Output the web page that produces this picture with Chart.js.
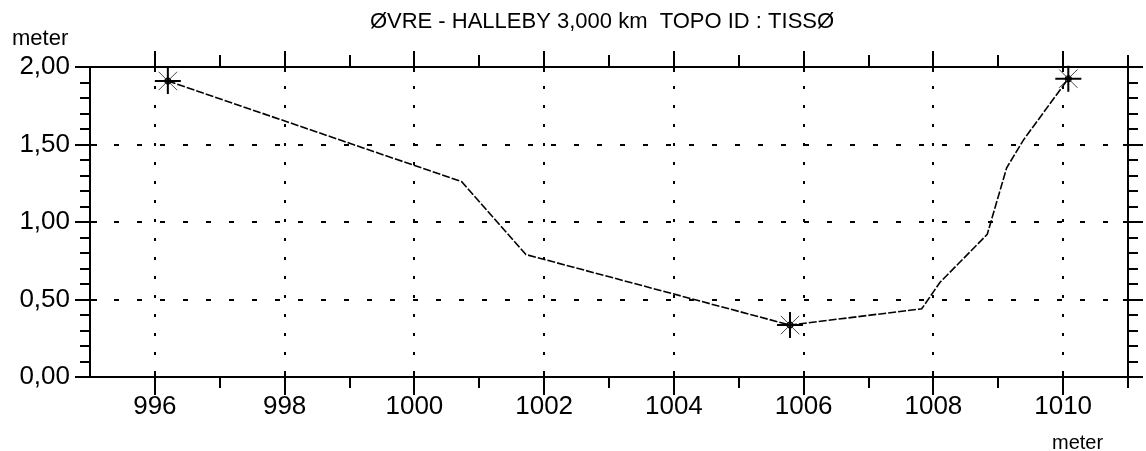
<!DOCTYPE html>
<html lang="no">
<head>
  <meta charset="UTF-8">
  <title>ØVRE - HALLEBY 3,000 km  TOPO ID : TISSØ</title>
  <script src="https://cdn.jsdelivr.net/npm/chart.js"></script>
  <style>
    body {
      margin: 0;
      background: #fff;
    }
    #wrap {
      width: 1146px;
      height: 451px;
    }
  </style>
</head>
<body>

  <div id="wrap"><canvas id="profil" width="1146" height="451"></canvas></div>

  <script>
    // tverrprofil: avstand langs profilet (meter) og høyde (meter)
    const avstand = [996.2, 1000.73, 1001.72, 1005.79, 1007.82, 1008.1, 1008.83, 1009.13, 1009.39, 1010.08];
    const hoyde   = [1.91,  1.26,    0.79,    0.335,   0.44,    0.61,   0.92,    1.35,    1.53,    1.925];

    // indekser for innmålte punkter (tegnes som stjerner)
    const maaltePunkt = [0, 3, 9];

    // akseverdier med tekst og rutenett
    const xTickVerdier = [996, 998, 1000, 1002, 1004, 1006, 1008, 1010];
    const yTickVerdier = [0, 0.5, 1, 1.5, 2];

    const tittel = 'ØVRE - HALLEBY 3,000 km  TOPO ID : TISSØ';
    const enhet = 'meter';

    const skrift = 'Liberation Sans';

    function erMerket(liste, v) {
      return liste.some(t => Math.abs(t - v) < 1e-6);
    }

    const profilData = avstand.map((x, i) => ({ x: x, y: hoyde[i] }));
    const stjerneData = maaltePunkt.map(i => ({ x: avstand[i], y: hoyde[i] }));

    // små streker på alle fire sider av rammen
    const rammeStreker = {
      id: 'rammeStreker',
      afterDraw(chart) {
        const { ctx, chartArea: a, scales: { x, y } } = chart;
        ctx.save();
        ctx.strokeStyle = '#000';
        ctx.lineWidth = 2;
        ctx.beginPath();

        x.ticks.forEach(t => {
          if (Math.abs(t.value - x.min) < 1e-6) return;
          const px = Math.round(x.getPixelForValue(t.value));
          const stor = erMerket(xTickVerdier, t.value);
          // nede
          ctx.moveTo(px, a.bottom + (stor ? 18 : 11));
          ctx.lineTo(px, a.bottom - (stor ? 4 : 0));
          // oppe
          ctx.moveTo(px, a.top - (stor ? 16 : 12));
          ctx.lineTo(px, a.top + (stor ? 5 : 0));
        });

        y.ticks.forEach(t => {
          const py = Math.round(y.getPixelForValue(t.value));
          const stor = erMerket(yTickVerdier, t.value);
          // venstre
          ctx.moveTo(a.left - (stor ? 15 : 10), py);
          ctx.lineTo(a.left + (stor ? 7 : 0), py);
          // høyre
          ctx.moveTo(a.right - (stor ? 5 : 0), py);
          ctx.lineTo(a.right + (stor ? 15 : 10), py);
        });

        ctx.stroke();
        ctx.restore();
      }
    };

    // tittel og enheter
    const tekster = {
      id: 'tekster',
      afterDraw(chart) {
        const ctx = chart.ctx;
        ctx.save();
        ctx.fillStyle = '#000';
        ctx.textBaseline = 'alphabetic';

        ctx.font = '22px "' + skrift + '"';
        ctx.textAlign = 'center';
        ctx.fillText(tittel, 602, 28);

        ctx.textAlign = 'left';
        ctx.fillText(enhet, 12, 45);

        ctx.font = '20px "' + skrift + '"';
        ctx.fillText(enhet, 1052, 449);
        ctx.restore();
      }
    };

    new Chart(document.getElementById('profil'), {
      type: 'line',
      data: {
        datasets: [
          {
            data: profilData,
            borderColor: '#000',
            borderWidth: 1.6,
            borderDash: [8, 2],
            pointRadius: 0,
            tension: 0
          },
          {
            data: stjerneData,
            showLine: false,
            pointStyle: 'cross',
            pointRadius: 13,
            pointBorderWidth: 2,
            pointBorderColor: '#000',
            clip: false
          },
          {
            data: stjerneData,
            showLine: false,
            pointStyle: 'crossRot',
            pointRadius: 13,
            pointBorderWidth: 1,
            pointBorderColor: '#444',
            clip: false
          },
          {
            data: stjerneData,
            showLine: false,
            pointStyle: 'circle',
            pointRadius: 3.5,
            pointBorderWidth: 0,
            pointBackgroundColor: '#000',
            clip: false
          }
        ]
      },
      options: {
        responsive: false,
        animation: false,
        devicePixelRatio: 1,
        layout: { padding: 0 },
        plugins: {
          legend: { display: false },
          tooltip: { enabled: false }
        },
        scales: {
          x: {
            type: 'linear',
            position: 'bottom',
            min: 995,
            max: 1011,
            afterFit: s => { s.height = 74; },
            ticks: {
              stepSize: 1,
              autoSkip: false,
              maxRotation: 0,
              padding: 14,
              color: '#000',
              font: { family: skrift, size: 26 },
              callback: v => erMerket(xTickVerdier, v) ? String(v) : ''
            },
            grid: {
              drawTicks: false,
              lineWidth: 2,
              color: c => (c.tick && erMerket(xTickVerdier, c.tick.value)) ? '#000' : 'rgba(0,0,0,0)'
            },
            border: { color: '#000', width: 2, dash: [3, 16] }
          },
          x2: {
            type: 'linear',
            position: 'top',
            min: 995,
            max: 1011,
            afterFit: s => { s.height = 67; },
            ticks: { display: false },
            grid: { display: false },
            border: { color: '#000', width: 2 }
          },
          y: {
            type: 'linear',
            position: 'left',
            min: 0,
            max: 2,
            afterFit: s => { s.width = 90; },
            ticks: {
              stepSize: 0.1,
              autoSkip: false,
              padding: 20,
              color: '#000',
              font: { family: skrift, size: 26 },
              callback: v => erMerket(yTickVerdier, v) ? v.toFixed(2).replace('.', ',') : ''
            },
            grid: {
              drawTicks: false,
              lineWidth: 2,
              color: c => (c.tick && c.tick.value > 0 && c.tick.value < 2 && erMerket(yTickVerdier, c.tick.value)) ? '#000' : 'rgba(0,0,0,0)'
            },
            border: { color: '#000', width: 2, dash: [5, 18] }
          },
          y2: {
            type: 'linear',
            position: 'right',
            min: 0,
            max: 2,
            afterFit: s => { s.width = 18; },
            ticks: { display: false },
            grid: { display: false },
            border: { color: '#000', width: 2 }
          }
        }
      },
      plugins: [rammeStreker, tekster]
    });
  </script>

</body>
</html>
